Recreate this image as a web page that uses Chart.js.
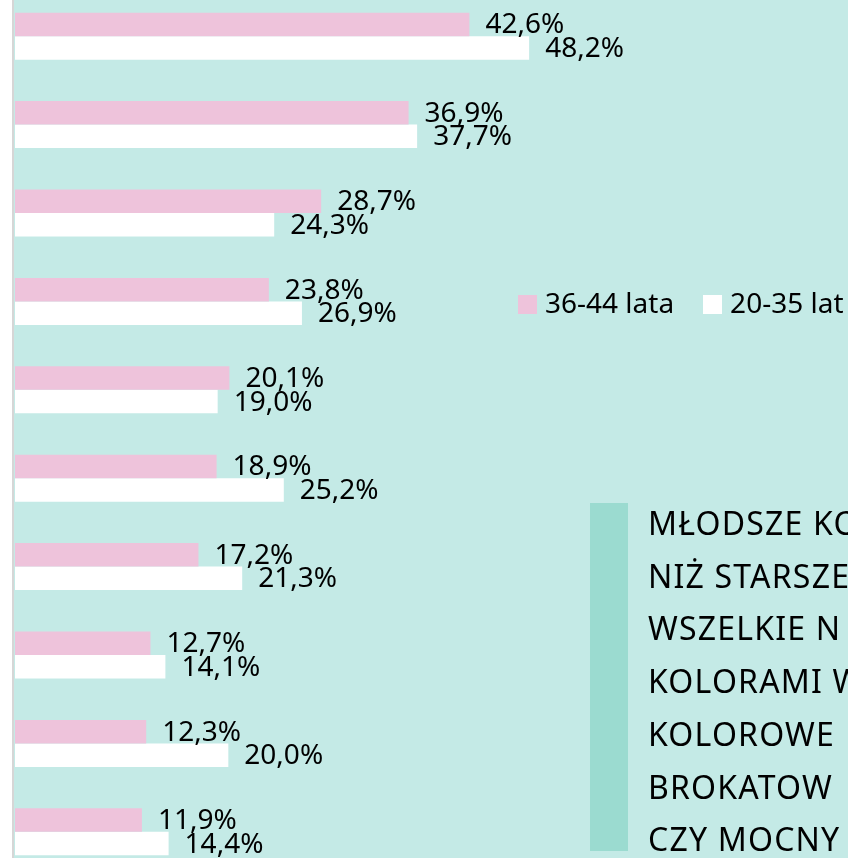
<!DOCTYPE html>
<html lang="pl">
<head>
<meta charset="utf-8">
<script src="https://cdn.jsdelivr.net/npm/chart.js@4"></script>
<style>
    html, body {
        margin: 0;
        padding: 0;
        width: 848px;
        height: 858px;
        overflow: hidden;
        background: #c4eae6;
        font-family: "Noto Sans", sans-serif;
        color: #000;
    }
    #leftStrip {
        position: absolute;
        left: 0; top: 0;
        width: 12px; height: 858px;
        background: #ffffff;
        border-right: 2px solid #d6d6d6;
    }
    #chart {
        position: absolute;
        left: 0; top: -8px;
    }
    #legend {
        position: absolute;
        left: 518px; top: 286px;
        white-space: nowrap;
        font-size: 28px;
        line-height: 32px;
    }
    .legend-item { display: inline-block; margin-right: 29px; }
    .legend-box {
        display: inline-block;
        width: 19px; height: 19px;
        margin-right: 8px;
        vertical-align: -1px;
    }
    #note {
        position: absolute;
        left: 590px; top: 503px;
        width: 38px; height: 348px;
        background: #9bdbd0;
    }
    #noteText {
        position: absolute;
        left: 648px; top: 497px;
        white-space: nowrap;
        font-size: 32px;
        letter-spacing: 1.2px;
        line-height: 52.7px;
    }
</style>
</head>
<body>
<div id="leftStrip"></div>
<canvas id="chart" width="848" height="884"></canvas>
<div id="legend"></div>
<div id="note"></div>
<div id="noteText">MŁODSZE KO<br>NIŻ STARSZE<br>WSZELKIE N<br>KOLORAMI W<br>KOLOROWE<br>BROKATOW<br>CZY MOCNY</div>

<script>
// kategorie (etykiety osi są poza kadrem)
const categories = ['1', '2', '3', '4', '5', '6', '7', '8', '9', '10'];

const seriesNames = ['36-44 lata', '20-35 lat'];
const seriesColors = ['#eec3db', '#ffffff'];

const older = [42.6, 36.9, 28.7, 23.8, 20.1, 18.9, 17.2, 12.7, 12.3, 11.9];
const younger = [48.2, 37.7, 24.3, 26.9, 19.0, 25.2, 21.3, 14.1, 20.0, 14.4];

// etykiety danych obok słupków
const barLabels = {
    id: 'barLabels',
    afterDatasetsDraw(chart) {
        const ctx = chart.ctx;
        ctx.save();
        ctx.font = '28px "Noto Sans", sans-serif';
        ctx.fillStyle = '#000';
        ctx.textAlign = 'left';
        ctx.textBaseline = 'middle';
        chart.data.datasets.forEach((ds, i) => {
            chart.getDatasetMeta(i).data.forEach((bar, j) => {
                const txt = ds.data[j].toFixed(1).replace('.', ',') + '%';
                ctx.fillText(txt, bar.x + 16, bar.y + 1);
            });
        });
        ctx.restore();
    }
};

document.addEventListener('DOMContentLoaded', function() {
    const legend = document.getElementById('legend');
    legend.innerHTML = seriesNames.map((name, i) =>
        `<span class="legend-item"><span class="legend-box" style="background:${seriesColors[i]}"></span>${name}</span>`
    ).join('');

    const ctx = document.getElementById('chart').getContext('2d');
    new Chart(ctx, {
        type: 'bar',
        data: {
            labels: categories,
            datasets: [
                {
                    label: seriesNames[0],
                    data: older,
                    backgroundColor: seriesColors[0],
                    borderWidth: 0
                },
                {
                    label: seriesNames[1],
                    data: younger,
                    backgroundColor: seriesColors[1],
                    borderWidth: 0
                }
            ]
        },
        options: {
            indexAxis: 'y',
            responsive: false,
            animation: false,
            categoryPercentage: 0.532,
            barPercentage: 1.0,
            layout: {
                padding: { left: 15, right: 193, top: 0, bottom: 0 }
            },
            scales: {
                x: { display: false, min: 0, max: 60 },
                y: { display: false }
            },
            plugins: {
                legend: { display: false },
                tooltip: { enabled: false }
            }
        },
        plugins: [barLabels]
    });
});
</script>
</body>
</html>
